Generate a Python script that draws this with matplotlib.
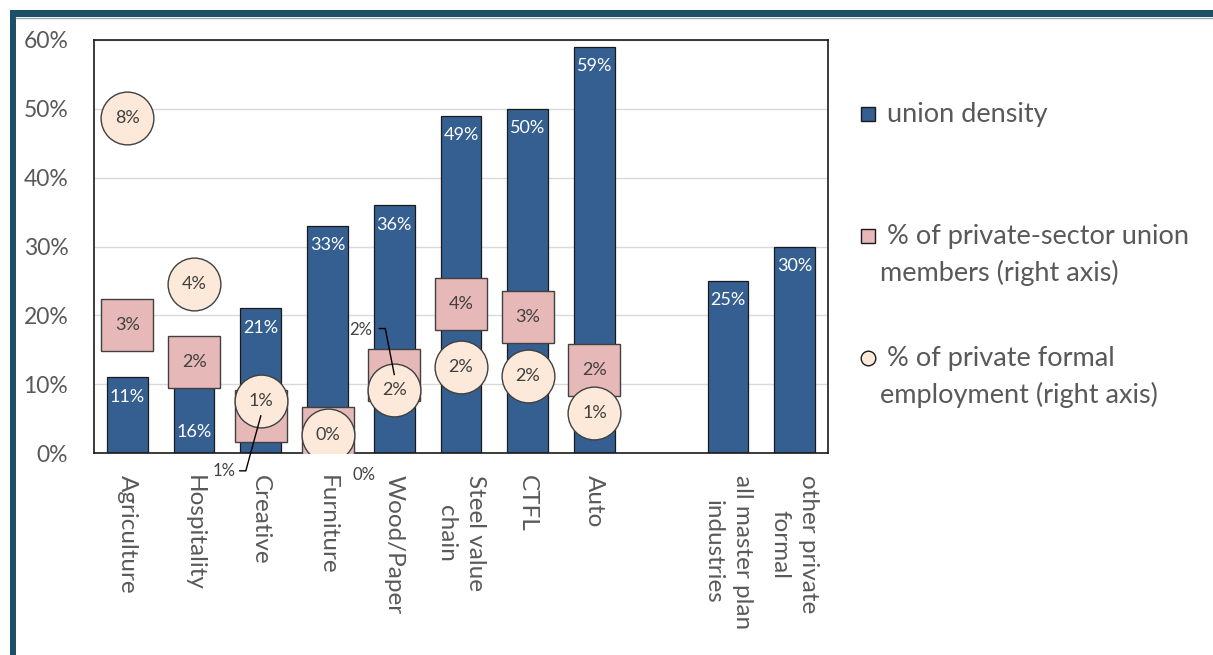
import numpy as np
import matplotlib.pyplot as plt
from matplotlib.lines import Line2D
from matplotlib.patches import Rectangle
from matplotlib.transforms import IdentityTransform

plt.rcParams['font.family'] = ['Lato', 'DejaVu Sans']

# industries on the x axis (slot 8 left empty as a spacer)
industries = ['Agriculture', 'Hospitality', 'Creative', 'Furniture', 'Wood/Paper',
              'Steel value\nchain', 'CTFL', 'Auto', '',
              'all master plan\nindustries', 'other private\nformal']
# left axis: union density
union_density = [0.11, 0.16, 0.21, 0.33, 0.36, 0.49, 0.50, 0.59, np.nan, 0.25, 0.30]
# right axis: share of private-sector union members / of private formal employment
share_members = [0.031, 0.022, 0.009, 0.0048, 0.019, 0.036, 0.033, 0.020]
share_employment = [0.081, 0.041, 0.0126, 0.0044, 0.0153, 0.0208, 0.0186, 0.0097]

BLUE = '#355f91'
PINK = '#e6b9b8'
PEACH = '#fde9d9'
EDGE = '#404040'
GREY = '#595959'

fig = plt.figure(figsize=(12.13, 6.55), dpi=100)
ax = fig.add_axes([94 / 1213, 1 - 453 / 655, 734 / 1213, 413 / 655])

x = np.arange(len(industries))
ax.bar(x, union_density, width=0.61, color=BLUE, edgecolor='#1a1a1a', linewidth=0.9, zorder=2)
ax.set_xlim(-0.5, 10.5)
ax.set_ylim(0, 0.6)
ax.set_yticks(np.arange(0, 0.61, 0.1))
ax.set_yticklabels([f'{v:.0%}' for v in np.arange(0, 0.61, 0.1)])
ax.yaxis.grid(True, color='#d9d9d9', linewidth=1)
ax.set_axisbelow(True)
ax.tick_params(axis='y', length=0, labelsize=16.5, labelcolor=GREY, pad=18.5)
ax.set_xticks(x)
ax.set_xticklabels(industries, rotation=270, va='top', ha='center')
ax.tick_params(axis='x', length=0, labelsize=17.5, labelcolor=GREY, pad=16)
for lbl in ax.get_xticklabels():
    lbl.set_multialignment('center')
    lbl.set_linespacing(1.45)
for s in ax.spines.values():
    s.set_color('#1a1a1a')
    s.set_linewidth(1.2)

# bar value labels, placed just inside the top of each bar
for xi, v in zip(x, union_density):
    if np.isnan(v):
        continue
    if xi == 1:
        ax.annotate(f'{v:.0%}', (xi, 0), xytext=(0, 15), textcoords='offset points',
                    ha='center', va='center', color='white', fontsize=13, zorder=3)
    else:
        ax.annotate(f'{v:.0%}', (xi, v), xytext=(0, -14), textcoords='offset points',
                    ha='center', va='center', color='white', fontsize=13, zorder=3)

# right axis for the two share series
ax2 = ax.twinx()
ax2.set_ylim(0, 0.10)
ax2.set_yticks([])
for s in ax2.spines.values():
    s.set_visible(False)

xs = x[:len(share_members)]
ax2.plot(xs, share_members, ls='none', marker='s', ms=38, mfc=PINK, mec=EDGE, mew=1, zorder=2)
ax2.plot(xs, share_employment, ls='none', marker='o', ms=38, mfc=PEACH, mec=EDGE, mew=1, zorder=3)

# square labels that are pushed out of the way: (dx, dy) in pixels, leader line or not
moved = {2: (-37, 55, [(-21, 55), (-15, 55), (0, 0)]),
         3: (36, 42, None),
         4: (-34, -45, [(-15, -46), (-9, -46), (0, 0)])}

for xi, v in zip(xs, share_members):
    if xi in moved:
        dx, dy, leader = moved[xi]
        ax2.annotate(f'{v:.0%}', (xi, v), xytext=(dx * 0.72, -dy * 0.72),
                     textcoords='offset points', ha='center', va='center',
                     color=EDGE, fontsize=12, zorder=5)
        if leader:
            cx, cy = ax2.transData.transform((xi, v))
            fig.add_artist(Line2D([cx + p[0] for p in leader], [cy - p[1] for p in leader],
                                  transform=IdentityTransform(), color='black', lw=1))
    else:
        ax2.annotate(f'{v:.0%}', (xi, v), ha='center', va='center',
                     color=EDGE, fontsize=13, zorder=4)

for xi, v in zip(xs, share_employment):
    ax2.annotate(f'{v:.0%}', (xi, v), ha='center', va='center',
                 color=EDGE, fontsize=13, zorder=4)

# legend, drawn in figure pixels
W, H = 1213, 655
entries = [(114, 's', BLUE, ' union density'),
           (236, 's', PINK, ' % of private-sector union\nmembers (right axis)'),
           (358, 'o', PEACH, ' % of private formal\nemployment (right axis)')]
for yy, mk, col, txt in entries:
    if mk == 's':
        fig.add_artist(Rectangle(((868 - 7) / W, 1 - (yy + 7) / H), 14 / W, 14 / H,
                                 transform=fig.transFigure, facecolor=col,
                                 edgecolor='#1a1a1a', lw=1))
    else:
        fig.add_artist(Line2D([868 / W], [1 - yy / H], marker='o', ms=10.5,
                              mfc=col, mec='#1a1a1a', mew=1, ls='none',
                              transform=fig.transFigure))
    fig.text(880 / W, 1 - (yy - 12) / H, txt, fontsize=19.5, color=GREY,
             va='top', ha='left', linespacing=1.5)

# slide frame
fig.add_artist(Rectangle((10 / W, 1 - 17 / H), 1, 7 / H, transform=fig.transFigure,
                         facecolor='#1d4f66', edgecolor='none'))
fig.add_artist(Rectangle((10 / W, 0), 6 / W, 1 - 10 / H, transform=fig.transFigure,
                         facecolor='#1d4f66', edgecolor='none'))
fig.add_artist(Line2D([16 / W, 1], [1 - 18 / H, 1 - 18 / H], transform=fig.transFigure,
                      color='#9aa5ab', lw=1))

fig.savefig('out.png', dpi=100)
